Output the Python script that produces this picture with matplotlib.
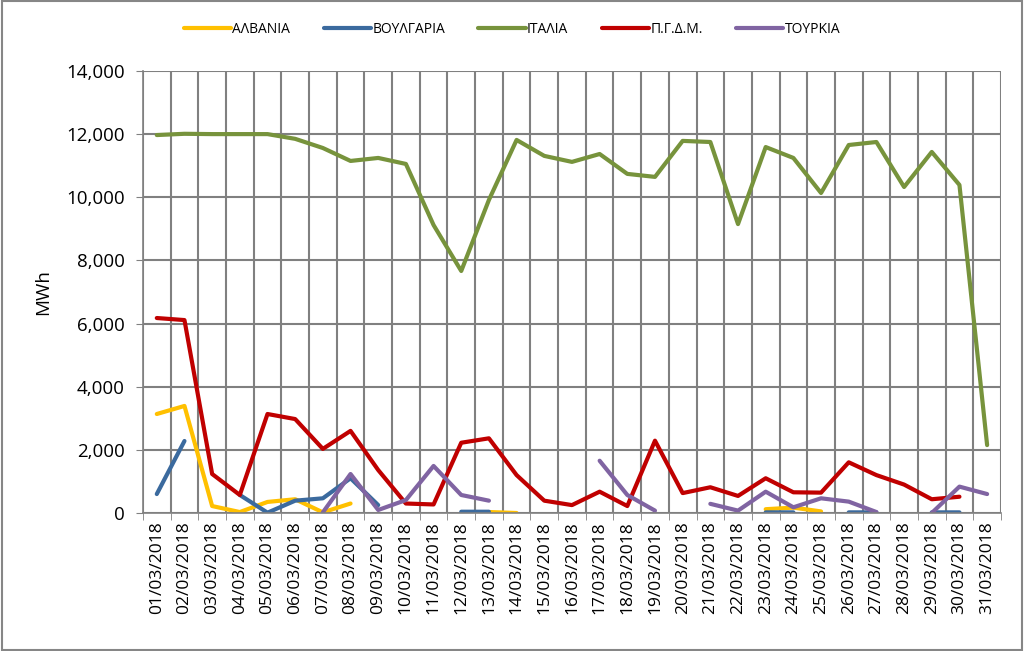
import numpy as np
import matplotlib
matplotlib.use("Agg")
import matplotlib.pyplot as plt
from matplotlib.patches import Rectangle
from matplotlib.ticker import FuncFormatter, FixedLocator

plt.rcParams['font.family'] = ['Open Sans', 'DejaVu Sans']

nan = np.nan

# ημερομηνίες
days = ['%02d/03/2018' % d for d in range(1, 32)]

# MWh ανά χώρα
albania = [3135, 3390, 220, 30, 350, 435, 20, 300, nan, nan,
           nan, nan, 30, 0, nan, nan, nan, nan, nan, nan,
           nan, nan, 120, 170, 50, nan, nan, nan, nan, nan, nan]
bulgaria = [600, 2280, nan, 570, 10, 390, 465, 1100, 250, nan,
            nan, 40, 40, nan, nan, nan, nan, nan, nan, nan,
            nan, nan, 20, 20, nan, 20, 20, nan, 20, 20, nan]
italy = [11970, 12010, 12000, 12000, 12000, 11850, 11560, 11150, 11245, 11055,
         9120, 7665, 9915, 11815, 11310, 11120, 11370, 10740, 10645, 11785,
         11750, 9150, 11590, 11245, 10135, 11655, 11750, 10325, 11435, 10390, 2150]
fyrom = [6175, 6110, 1235, 570, 3135, 2975, 2030, 2600, 1360, 300,
         270, 2225, 2365, 1200, 390, 250, 675, 220, 2290, 630,
         815, 540, 1100, 655, 645, 1605, 1200, 900, 435, 515, nan]
turkey = [nan, nan, nan, nan, nan, nan, 20, 1235, 95, 410,
          1490, 570, 390, nan, nan, nan, 1655, 570, 75, nan,
          290, 75, 675, 180, 465, 360, 30, nan, 0, 835, 600]

series = [('ΑΛΒΑΝΙΑ', albania, '#FFC000'),
          ('ΒΟΥΛΓΑΡΙΑ', bulgaria, '#3B6A9E'),
          ('ΙΤΑΛΙΑ', italy, '#77933C'),
          ('Π.Γ.Δ.Μ.', fyrom, '#C00000'),
          ('ΤΟΥΡΚΙΑ', turkey, '#8064A2')]

fig = plt.figure(figsize=(10.24, 6.51), dpi=100)
ax = fig.add_axes([0.1396, 0.212, 0.8379, 0.679])

x = np.arange(len(days))
for name, vals, col in series:
    ax.plot(x, vals, color=col, lw=3.0, label=name, solid_capstyle='round', solid_joinstyle='round')

ax.set_xlim(-0.5, len(days) - 0.5)
ax.set_ylim(0, 14000)
ax.set_yticks(np.arange(0, 14001, 2000))
ax.yaxis.set_major_formatter(FuncFormatter(lambda v, p: '{:,.0f}'.format(v)))
ax.set_xticks(x)
ax.set_xticklabels(days, rotation=90, fontsize=12.5)
ax.xaxis.set_minor_locator(FixedLocator(np.arange(-0.5, len(days), 1)))
ax.tick_params(axis='x', which='major', length=0, pad=6)
ax.tick_params(axis='x', which='minor', length=5, color='#808080')
ax.tick_params(axis='y', labelsize=13.5, length=5, color='#808080', pad=8)

ax.grid(True, axis='y', which='major', color='#808080', lw=1.5)
ax.grid(True, axis='x', which='minor', color='#808080', lw=1.5)
ax.set_axisbelow(True)
for s in ['top', 'right']:
    ax.spines[s].set_visible(False)
for s in ['left', 'bottom']:
    ax.spines[s].set_color('#808080')
    ax.spines[s].set_linewidth(1.2)

ax.set_ylabel('MWh', fontsize=13.5, labelpad=10)

handles, labels = ax.get_legend_handles_labels()
fig.legend(handles, labels, loc='center', bbox_to_anchor=(0.5, 0.955), ncol=5, frameon=False,
           fontsize=10, handlelength=3.4, handletextpad=0.1, columnspacing=2.4)

fig.patches.append(Rectangle((0.002, 0.002), 0.996, 0.996, transform=fig.transFigure,
                             fill=False, edgecolor='#868686', lw=1.5))

fig.savefig('out.png', dpi=100)
